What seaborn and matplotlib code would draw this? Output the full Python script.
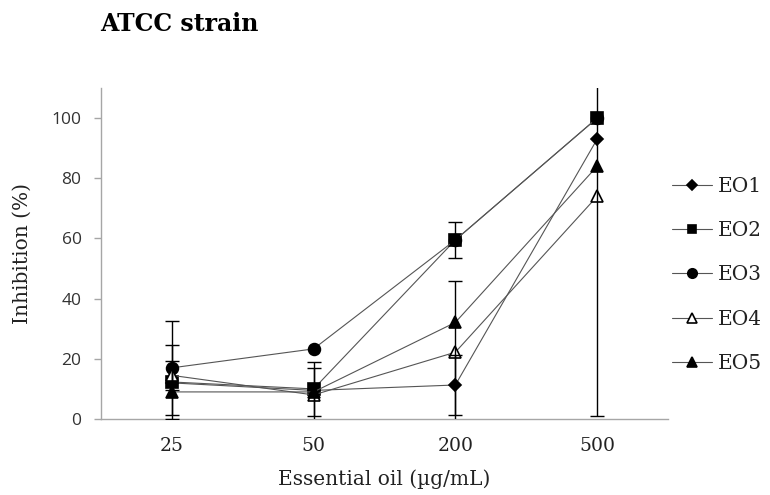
import numpy as np
import pandas as pd
import matplotlib
matplotlib.use("Agg")
import matplotlib.pyplot as plt
import seaborn as sns

# Data
doses = ["25", "50", "200", "500"]
series = ["EO1", "EO2", "EO3", "EO4", "EO5"]

eo1 = [12.0, 9.5, 11.3, 93.0]
eo2 = [12.3, 10.0, 59.5, 100.0]
eo3 = [17.0, 23.3, 59.5, 100.0]
eo4 = [14.5, 8.0, 22.2, 74.0]
eo5 = [9.0, 9.0, 32.1, 84.0]

eo1_sd = [0.0, 0.0, 10.0, 0.0]
eo2_sd = [12.2, 9.0, 6.0, 0.0]
eo3_sd = [15.6, 0.0, 0.0, 0.0]
eo4_sd = [4.8, 9.0, 23.7, 73.0]
eo5_sd = [0.0, 0.0, 0.0, 0.0]

values = [eo1, eo2, eo3, eo4, eo5]
errors = [eo1_sd, eo2_sd, eo3_sd, eo4_sd, eo5_sd]

# long table for seaborn
rows = []
for name, vals, sds in zip(series, values, errors):
    for d, v, s in zip(doses, vals, sds):
        rows.append({"dose": d, "series": name, "inhibition": v, "sd": s})
df = pd.DataFrame(rows)

sns.set_theme(style="white")
serif = ["DejaVu Serif"]
sans = ["Open Sans", "DejaVu Sans"]

fig = plt.figure(figsize=(7.7, 4.95), dpi=100)
ax = fig.add_axes([101 / 770, 1 - 419 / 495, 567 / 770, 331 / 495])

markers = {"EO1": "D", "EO2": "s", "EO3": "o", "EO4": "^", "EO5": "^"}
msizes = {"EO1": 6, "EO2": 8, "EO3": 8.5, "EO4": 9, "EO5": 8.5}
faces = {"EO1": "black", "EO2": "black", "EO3": "black", "EO4": "white", "EO5": "black"}

for name in series:
    sub = df[df["series"] == name]
    sns.lineplot(data=sub, x="dose", y="inhibition", ax=ax, label=name,
                 color="#555555", linewidth=0.8, marker=markers[name],
                 markersize=msizes[name], markerfacecolor=faces[name],
                 markeredgecolor="black", markeredgewidth=1.2, zorder=3)

for name in series:
    sub = df[(df["series"] == name) & (df["sd"] > 0)]
    ax.errorbar(sub["dose"], sub["inhibition"], yerr=sub["sd"], fmt="none",
                ecolor="black", elinewidth=1.0, capsize=5, capthick=1.0, zorder=4)

ax.set_xlim(-0.5, 3.5)
ax.set_ylim(0, 110)
ax.set_yticks(np.arange(0, 101, 20))
for sp in ["top", "right"]:
    ax.spines[sp].set_visible(False)
for sp in ["left", "bottom"]:
    ax.spines[sp].set_color("#a6a6a6")
    ax.spines[sp].set_linewidth(1.0)

ax.tick_params(axis="y", direction="out", length=5, width=1, color="#a6a6a6",
               pad=9, labelsize=12.5, labelcolor="#333333", left=True)
ax.tick_params(axis="x", length=0, pad=13, labelsize=13.5, labelcolor="#222222")
for lab in ax.get_yticklabels():
    lab.set_family(sans)
for lab in ax.get_xticklabels():
    lab.set_family(serif)

ax.set_xlabel("Essential oil (\u00b5g/mL)", family=serif, fontsize=14.5, color="#222222")
ax.set_ylabel("Inhibition (%)", family=serif, fontsize=14.5, color="#222222")
ax.xaxis.set_label_coords(0.5, -0.152)
ax.yaxis.set_label_coords(-0.122, 0.5)

fig.text(100 / 770, 1 - 24 / 495, "ATCC strain", family=serif, fontweight="bold",
         fontsize=17, va="center", ha="left", color="black")

leg = ax.legend(loc="center left", bbox_to_anchor=(672 / 770, 1 - 275 / 495),
                bbox_transform=fig.transFigure, frameon=False, borderaxespad=0,
                borderpad=0, labelspacing=1.25, handlelength=2.0,
                handletextpad=0.3, prop={"family": serif, "size": 14.5},
                markerscale=0.8)
for t in leg.get_texts():
    t.set_color("#222222")

fig.savefig("out.png", dpi=100)
